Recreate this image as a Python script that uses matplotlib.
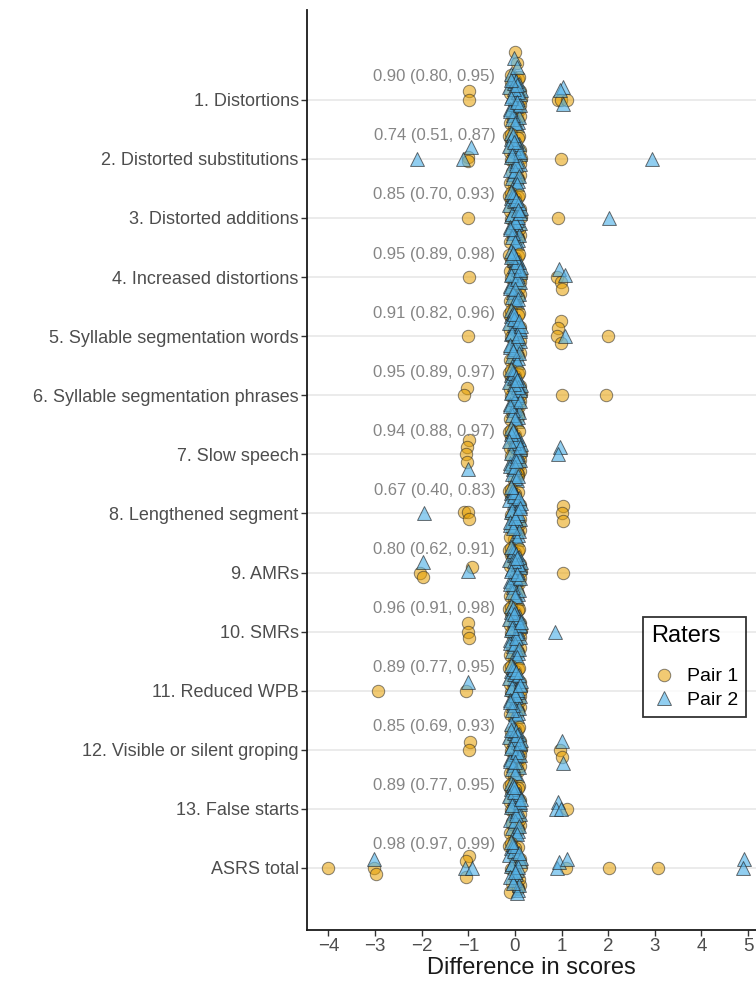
import numpy as np
import matplotlib
matplotlib.use("Agg")
import matplotlib.pyplot as plt
from matplotlib.lines import Line2D

plt.rcParams["font.family"] = ["Liberation Sans", "DejaVu Sans"]

# ─────────────────────────────────────────────
# DATA
# ─────────────────────────────────────────────
CATEGORIES = [
    "1. Distortions", "2. Distorted substitutions", "3. Distorted additions",
    "4. Increased distortions", "5. Syllable segmentation words",
    "6. Syllable segmentation phrases", "7. Slow speech", "8. Lengthened segment",
    "9. AMRs", "10. SMRs", "11. Reduced WPB", "12. Visible or silent groping",
    "13. False starts", "ASRS total",
]

ICC_LABELS = [
    "0.90 (0.80, 0.95)", "0.74 (0.51, 0.87)", "0.85 (0.70, 0.93)",
    "0.95 (0.89, 0.98)", "0.91 (0.82, 0.96)", "0.95 (0.89, 0.97)",
    "0.94 (0.88, 0.97)", "0.67 (0.40, 0.83)", "0.80 (0.62, 0.91)",
    "0.96 (0.91, 0.98)", "0.89 (0.77, 0.95)", "0.85 (0.69, 0.93)",
    "0.89 (0.77, 0.95)", "0.98 (0.97, 0.99)",
]

N_SUBJECTS = 30   # per rater pair; everything not listed below is a 0 difference

# non-zero differences per item (pair 1 = orange circles)
P1_DIFF = [
    [-1, -1, 1, 1, 1], [-1, -1, 1], [-1, 1], [-1, 1, 1, 1], [-1, 1, 1, 1, 1, 2],
    [-1, -1, 1, 2], [-1, -1, -1, -1], [-1, -1, -1, 1, 1, 1], [-2, -2, -1, 1],
    [-1, -1, -1], [-3, -1], [-1, -1, 1, 1], [1], [-4, -3, -3, -1, -1, -1, 1, 2, 3],
]
P1_DX = [
    [0.01, 0.01, -0.08, -0.02, 0.11], [0.0, 0.0, -0.02], [0.0, -0.08],
    [0.01, -0.10, -0.01, 0.01], [0.0, -0.02, -0.08, -0.10, -0.02, 0.0],
    [-0.03, -0.09, 0.01, -0.05], [0.01, -0.02, -0.04, -0.03],
    [-0.09, -0.01, 0.01, 0.03, 0.01, 0.03], [-0.03, 0.03, 0.07, 0.02],
    [0.0, 0.0, 0.01], [0.06, -0.05], [0.03, 0.01, -0.04, 0.01], [0.11],
    [-0.01, -0.03, 0.03, 0.01, -0.05, -0.05, 0.09, 0.02, 0.07],
]
P1_DY = [
    [0.15, 0.0, 0.0, 0.0, 0.0], [0.03, -0.03, 0.0], [0.0, 0.0],
    [0.0, 0.0, -0.08, -0.20], [0.0, 0.25, 0.13, 0.0, -0.12, 0.0],
    [0.12, 0.0, 0.0, 0.0], [0.25, 0.13, 0.0, -0.13],
    [0.02, 0.03, -0.10, 0.12, 0.0, -0.12], [0.0, -0.08, 0.10, 0.0],
    [0.15, 0.0, -0.10], [0.0, 0.0], [0.14, 0.0, 0.0, -0.12], [0.0],
    [0.0, 0.0, -0.10, 0.20, 0.12, -0.15, 0.0, 0.0, 0.0],
]

# pair 2 = blue triangles
P2_DIFF = [
    [1, 1, 1], [-2, -1, -1, 3], [2], [1, 1], [1], [], [-1, 1, 1], [-2], [-2, -1],
    [1], [-1], [1, 1], [1, 1, 1], [-3, -1, -1, 1, 1, 1, 5, 5],
]
P2_DX = [
    [0.03, -0.03, 0.03], [-0.10, -0.11, 0.05, -0.07], [0.02], [-0.06, 0.07],
    [0.07], [], [0.0, -0.04, -0.08], [0.05], [0.03, 0.0], [-0.14], [0.0],
    [0.01, 0.03], [-0.08, -0.12, -0.02],
    [-0.03, -0.07, 0.07, -0.10, -0.05, 0.11, -0.08, -0.11],
]
P2_DY = [
    [0.22, 0.17, -0.07], [0.0, 0.0, 0.20, 0.0], [0.0], [0.14, 0.03], [0.0], [],
    [-0.24, 0.12, 0.0], [0.0], [0.17, 0.03], [0.0], [0.14], [0.15, -0.22],
    [0.12, 0.0, 0.0], [0.15, 0.0, 0.0, 0.0, 0.10, 0.15, 0.15, 0.0],
]

# hand-placed jitter for the (many) zero differences
J1_DX = [-0.08, 0.05, 0.11, -0.02, 0.07, -0.10, 0.03, -0.05, 0.09, 0.00,
         -0.07, 0.12, -0.03, 0.06, -0.11, 0.02, 0.08, -0.06, 0.04, -0.09,
         0.10, -0.01, 0.05, -0.04, 0.11, -0.08, 0.01, 0.07, -0.12, 0.03]
J1_DY = [0.42, -0.31, 0.15, -0.05, 0.36, -0.40, 0.08, 0.27, -0.18, 0.33,
         -0.26, 0.02, 0.21, -0.36, 0.11, -0.13, 0.39, -0.22, 0.05, 0.30,
         -0.09, -0.44, 0.18, 0.24, -0.28, -0.02, 0.13, -0.34, 0.38, -0.16]
J2_DX = [0.04, -0.09, 0.01, 0.10, -0.05, 0.07, -0.12, 0.02, -0.03, 0.09,
         -0.07, 0.05, 0.12, -0.01, -0.10, 0.06, -0.04, 0.08, 0.00, -0.08,
         0.11, -0.06, 0.03, -0.11, 0.07, 0.01, -0.02, 0.10, -0.09, 0.05]
J2_DY = [-0.03, 0.34, -0.21, 0.12, 0.40, -0.37, 0.22, -0.11, 0.29, -0.29,
         0.06, -0.43, 0.17, 0.37, -0.15, 0.01, -0.25, 0.26, -0.07, 0.44,
         0.09, -0.33, 0.31, -0.19, 0.14, -0.40, 0.19, -0.09, 0.03, 0.25]

# item 1 column reaches higher than the others
TOP_P1_DY = [0.81, 0.62]
TOP_P2_DY = [0.70, 0.55]

ORANGE = "#E69F00"
BLUE = "#56B4E9"

# ─────────────────────────────────────────────
# PLOT
# ─────────────────────────────────────────────
fig = plt.figure(figsize=(7.56, 9.81), dpi=100)
ax = fig.add_axes([307 / 756, 51 / 981, 449 / 756, 920 / 981])

n_cat = len(CATEGORIES)
ypos = [n_cat - 1 - i for i in range(n_cat)]

for y in ypos:
    ax.axhline(y, color="#E6E6E6", lw=1.1, zorder=0)

edge = "#222222"

for i, y in enumerate(ypos):
    start = (i * 11) % len(J1_DX)
    idx1 = [(start + j) % len(J1_DX) for j in range(N_SUBJECTS - len(P1_DIFF[i]))]
    idx2 = [(start + 5 + j) % len(J2_DX) for j in range(N_SUBJECTS - len(P2_DIFF[i]))]

    x1 = [d + dx for d, dx in zip(P1_DIFF[i], P1_DX[i])] + [J1_DX[k] for k in idx1]
    y1 = [y + dy for dy in P1_DY[i]] + [y + J1_DY[k] for k in idx1]
    x2 = [d + dx for d, dx in zip(P2_DIFF[i], P2_DX[i])] + [J2_DX[k] for k in idx2]
    y2 = [y + dy for dy in P2_DY[i]] + [y + J2_DY[k] for k in idx2]
    if i == 0:
        x1 += [0.0, 0.04]
        y1 += [y + d for d in TOP_P1_DY]
        x2 += [-0.02, 0.05]
        y2 += [y + d for d in TOP_P2_DY]

    ax.scatter(x1, y1, s=80, marker="o", facecolors=ORANGE, alpha=0.55,
               edgecolors=edge, linewidths=0.7, zorder=3)
    ax.scatter(x2, y2, s=100, marker="^", facecolors=BLUE, alpha=0.65,
               edgecolors=edge, linewidths=0.7, zorder=3)

    ax.text(-0.42, y + 0.39, ICC_LABELS[i], ha="right", va="center",
            fontsize=12, color="#858585", zorder=4)

ax.set_xlim(-4.46, 5.17)
ax.set_ylim(-1.05, n_cat - 1 + 1.52)
ax.set_xticks(range(-4, 6))
ax.set_xticklabels(["\u22124", "\u22123", "\u22122", "\u22121", "0", "1", "2", "3", "4", "5"])
ax.set_yticks(ypos)
ax.set_yticklabels(CATEGORIES)
ax.tick_params(axis="y", labelsize=13, labelcolor="#4D4D4D", color="#333333",
               length=4, width=1.0, pad=2)
ax.tick_params(axis="x", labelsize=13.5, labelcolor="#4D4D4D", color="#333333",
               length=4, width=1.0, pad=2)
ax.set_xlabel("Difference in scores", fontsize=17, color="#1A1A1A", labelpad=1)

for side in ["top", "right"]:
    ax.spines[side].set_visible(False)
for side in ["left", "bottom"]:
    ax.spines[side].set_color("#1A1A1A")
    ax.spines[side].set_linewidth(1.3)

handles = [
    Line2D([], [], marker="o", ls="none", markersize=9, markerfacecolor=ORANGE,
           markeredgecolor=edge, markeredgewidth=0.7, alpha=0.55, label="Pair 1"),
    Line2D([], [], marker="^", ls="none", markersize=10, markerfacecolor=BLUE,
           markeredgecolor=edge, markeredgewidth=0.7, alpha=0.65, label="Pair 2"),
]
leg = ax.legend(handles=handles, title="Raters", loc="lower left",
                bbox_to_anchor=(0.748, 0.2315), borderaxespad=0, fontsize=14,
                title_fontsize=17, frameon=True, fancybox=False,
                handletextpad=0.55, borderpad=0.42, labelspacing=0.3,
                handlelength=1.3)
leg.get_frame().set_edgecolor("black")
leg.get_frame().set_linewidth(1.3)
leg._legend_box.align = "left"
leg._legend_box.sep = 15

fig.savefig("out.png", dpi=100)
